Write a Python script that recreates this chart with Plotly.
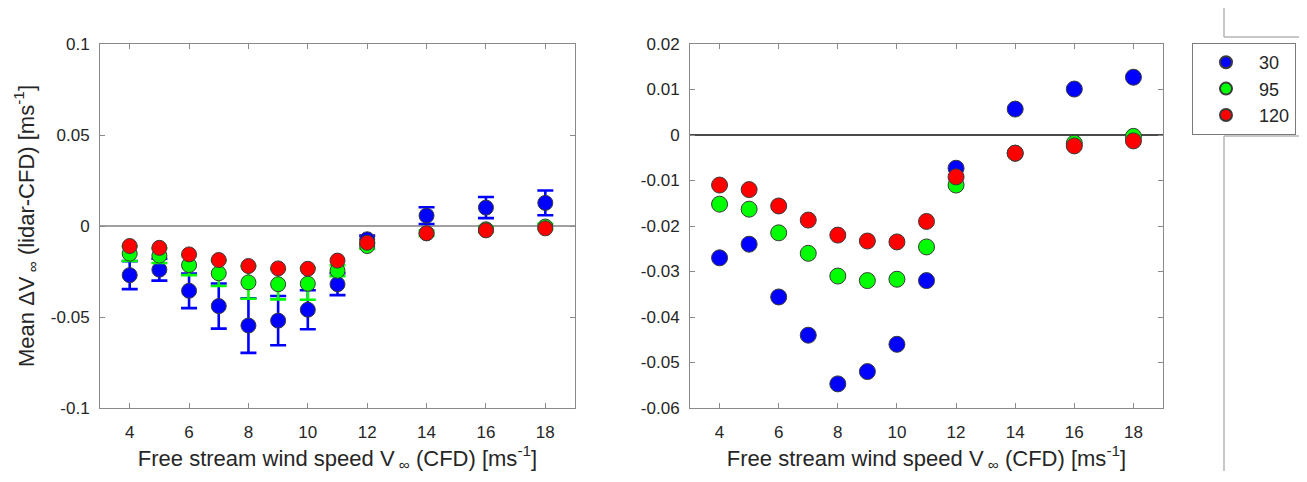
import plotly.graph_objects as go

wind_speed = [4, 5, 6, 7, 8, 9, 10, 11, 12, 14, 16, 18]

mean_30 = [-0.0270, -0.0240, -0.0356, -0.0440, -0.0547, -0.0520, -0.0460, -0.0320, -0.0073, 0.0057, 0.0101, 0.0127]
mean_95 = [-0.0152, -0.0163, -0.0215, -0.0260, -0.0310, -0.0320, -0.0317, -0.0246, -0.0110, -0.0040, -0.0018, -0.0003]
mean_120 = [-0.0110, -0.0120, -0.0156, -0.0187, -0.0220, -0.0233, -0.0235, -0.0190, -0.0092, -0.0040, -0.0024, -0.0013]

err_30 = [0.0077, 0.0060, 0.0095, 0.0124, 0.0150, 0.0135, 0.0107, 0.0060, 0.0020, 0.0046, 0.0058, 0.0068]
err_95 = [0.0040, 0.0040, 0.0055, 0.0070, 0.0090, 0.0083, 0.0088, 0.0030, 0.0015, 0.0015, 0.0015, 0.0015]

heights = ["30", "95", "120"]
colors = ["#0000ff", "#00ff00", "#ff0000"]

x_ticks = [4, 6, 8, 10, 12, 14, 16, 18]
y1_ticks = [-0.1, -0.05, 0, 0.05, 0.1]
y1_text = ["-0.1", "-0.05", "0", "0.05", "0.1"]
y2_ticks = [-0.06, -0.05, -0.04, -0.03, -0.02, -0.01, 0, 0.01, 0.02]
y2_text = ["-0.06", "-0.05", "-0.04", "-0.03", "-0.02", "-0.01", "0", "0.01", "0.02"]

W, H = 1307, 482
OFF = 8  # page offset of the figure inside the browser window
FONT = "Arial, 'Liberation Sans', sans-serif"
TXT = "#262626"
AX = "#8a8a8a"


def px(v):
    return (v - OFF) / W


def py(v):
    return 1 - (v - OFF) / H


fig = go.Figure()

means = [mean_30, mean_95, mean_120]
errs = [err_30, err_95, None]
for i, (h, c) in enumerate(zip(heights, colors)):
    ey = dict(type="data", array=errs[i], color=c, thickness=2.6, width=8, visible=True) if errs[i] is not None else None
    fig.add_trace(go.Scatter(
        x=wind_speed, y=means[i], mode="markers", name=h, showlegend=False,
        marker=dict(size=15, color=c, line=dict(color="#3a3a3a", width=1)),
        error_y=ey, xaxis="x", yaxis="y"))
for i, (h, c) in enumerate(zip(heights, colors)):
    fig.add_trace(go.Scatter(
        x=wind_speed, y=means[i], mode="markers", name=h, showlegend=True,
        marker=dict(size=16, color=c, line=dict(color="#3a3a3a", width=1)),
        xaxis="x2", yaxis="y2"))


def xax(domain, anchor):
    return dict(domain=domain, anchor=anchor, range=[3, 19], tickvals=x_ticks,
                ticks="inside", ticklen=5, tickcolor=AX, showline=True, linecolor=AX,
                linewidth=1, mirror="ticks", showgrid=False, zeroline=False,
                automargin=False, ticklabelstandoff=9,
                tickfont=dict(family=FONT, size=17, color=TXT),
                title=dict(text="Free stream wind speed V<sub> ∞</sub> (CFD) [ms<sup>-1</sup>]",
                           font=dict(family=FONT, size=22, color=TXT), standoff=8))


def yax(domain, anchor, rng, tv, tt, zc, zw):
    return dict(domain=domain, anchor=anchor, range=rng, tickvals=tv, ticktext=tt,
                ticks="inside", ticklen=5, tickcolor=AX, showline=True, linecolor=AX,
                linewidth=1, mirror="ticks", showgrid=False, zeroline=True,
                zerolinecolor=zc, zerolinewidth=zw, automargin=False, ticklabelstandoff=6,
                tickfont=dict(family=FONT, size=17, color=TXT))


ydom = [py(408), py(44)]
fig.update_layout(
    width=W, height=H, margin=dict(l=0, r=0, t=0, b=0),
    paper_bgcolor="white", plot_bgcolor="white",
    xaxis=xax([px(100), px(575)], "y"),
    yaxis=yax(ydom, "x", [-0.1, 0.1], y1_ticks, y1_text, "#a0a0a0", 2),
    xaxis2=xax([px(690), px(1163)], "y2"),
    yaxis2=yax(ydom, "x2", [-0.06, 0.02], y2_ticks, y2_text, "#4a4a4a", 1.5),
    legend=dict(x=px(1192), xanchor="left", y=py(43), yanchor="top",
                bordercolor="#7a7a7a", borderwidth=1, bgcolor="white", itemwidth=56,
                tracegroupgap=0,
                font=dict(family=FONT, size=18, color=TXT), itemsizing="constant"),
    showlegend=True,
)
fig.layout.yaxis.title = dict(text="Mean ΔV<sub> ∞</sub> (lidar-CFD) [ms<sup>-1</sup>]",
                              font=dict(family=FONT, size=22, color=TXT), standoff=10)

# cropped neighbouring-figure frame lines at the right edge
line = dict(color="#b5b5b5", width=1.5)
xl = px(1224)
fig.add_shape(type="line", xref="paper", yref="paper", x0=xl, x1=xl, y0=py(7), y1=py(37), line=line)
fig.add_shape(type="line", xref="paper", yref="paper", x0=xl, x1=1, y0=py(37), y1=py(37), line=line)
fig.add_shape(type="line", xref="paper", yref="paper", x0=xl, x1=1, y0=py(136), y1=py(136), line=line)
fig.add_shape(type="line", xref="paper", yref="paper", x0=xl, x1=xl, y0=py(136), y1=py(471), line=line)
fig.add_shape(type="rect", xref="paper", yref="paper", x0=px(1299), x1=px(1303), y0=py(132), y1=py(43),
              line=dict(width=0), fillcolor="#c4c4c4")

fig.write_html("out.html")
